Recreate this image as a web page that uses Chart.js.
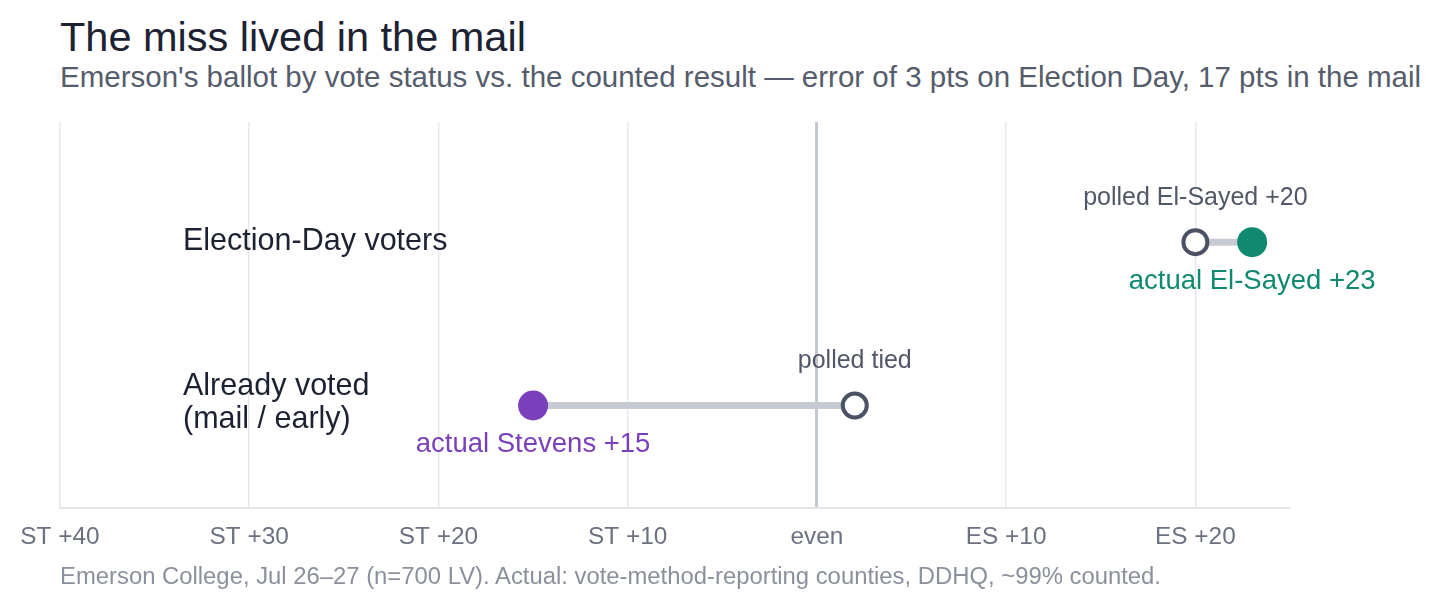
<!DOCTYPE html>
<html>
<head>
<meta charset="utf-8">
<script src="https://cdn.jsdelivr.net/npm/chart.js@4.4.1/dist/chart.umd.min.js"></script>
<style>
  html, body { margin: 0; padding: 0; background: #fff; }
  body { width: 1441px; height: 607px; position: relative; overflow: hidden;
         font-family: "Liberation Sans", Arial, Helvetica, sans-serif; }
  #wrap { position: absolute; left: 0; top: 0; width: 1441px; height: 607px; }
  .txt { position: absolute; left: 60px; white-space: nowrap; }
  #title { top: 13px; font-size: 41.5px; color: #1d2233; line-height: 48px; }
  #sub { top: 60px; font-size: 29.5px; color: #555c6c; line-height: 34px; }
  #foot { top: 562px; font-size: 23.85px; color: #8a909c; line-height: 28px; }
</style>
</head>
<body>
<div id="title" class="txt">The miss lived in the mail</div>
<div id="sub" class="txt">Emerson's ballot by vote status vs. the counted result — error of 3 pts on Election Day, 17 pts in the mail</div>
<div id="wrap"><canvas id="dumbbell"></canvas></div>
<div id="foot" class="txt">Emerson College, Jul 26–27 (n=700 LV). Actual: vote-method-reporting counties, DDHQ, ~99% counted.</div>
<script>
// margin: negative = Stevens (ST) ahead, positive = El-Sayed (ES) ahead
const grupos = [["Election-Day voters"], ["Already voted", "(mail / early)"]];
const linhaY = [1, 0];
const pesquisa = [20, 2];
const resultado = [23, -15];
const rotulosPesquisa = ["polled El-Sayed +20", "polled tied"];
const rotulosResultado = ["actual El-Sayed +23", "actual Stevens +15"];
const coresResultado = ["#0f8a70", "#7a3fbb"];
const tickValores = [-40, -30, -20, -10, 0, 10, 20];
const tickRotulos = ["ST +40", "ST +30", "ST +20", "ST +10", "even", "ES +10", "ES +20"];

const FONTE = '"Liberation Sans", Arial, Helvetica, sans-serif';

let datasets = [];
// pontos da pesquisa (aro)
datasets.push({
  label: "polled",
  data: pesquisa.map((v, i) => ({ x: v, y: linhaY[i] })),
  pointRadius: 12,
  pointHoverRadius: 12,
  backgroundColor: "#ffffff",
  borderColor: "#4b5263",
  borderWidth: 4,
  order: 1,
});
// resultado real (cheio)
datasets.push({
  label: "actual",
  data: resultado.map((v, i) => ({ x: v, y: linhaY[i] })),
  pointRadius: 15,
  pointHoverRadius: 15,
  backgroundColor: coresResultado,
  borderColor: coresResultado,
  borderWidth: 0,
  order: 1,
});
// barrinhas ligando
for (let i = 0; i < grupos.length; i++) {
  datasets.push({
    label: "link" + i,
    data: [{ x: pesquisa[i], y: linhaY[i] }, { x: resultado[i], y: linhaY[i] }],
    showLine: true,
    pointRadius: 0,
    borderColor: "#c6cad3",
    borderWidth: 7,
    order: 5,
  });
}

const rotulos = {
  id: "rotulos",
  afterDatasetsDraw(chart) {
    const ctx = chart.ctx;
    const xs = chart.scales.x, ys = chart.scales.y;
    ctx.save();
    ctx.textBaseline = "middle";
    for (let i = 0; i < grupos.length; i++) {
      const yy = ys.getPixelForValue(linhaY[i]);
      // nome da linha
      ctx.textAlign = "left";
      ctx.fillStyle = "#1d2233";
      ctx.font = "30.5px " + FONTE;
      const linhas = grupos[i];
      const passo = 33;
      const y0 = yy - 1 - (linhas.length - 1) * (passo / 2 + 1);
      linhas.forEach((t, k) => ctx.fillText(t, chart.chartArea.left + 123, y0 + k * passo));
      // rotulo pesquisa
      ctx.textAlign = "center";
      ctx.fillStyle = "#505767";
      ctx.font = "25px " + FONTE;
      ctx.fillText(rotulosPesquisa[i], xs.getPixelForValue(pesquisa[i]), yy - 44);
      // rotulo resultado
      ctx.fillStyle = coresResultado[i];
      ctx.font = "27.5px " + FONTE;
      ctx.fillText(rotulosResultado[i], xs.getPixelForValue(resultado[i]), yy + 39);
    }
    ctx.restore();
  },
};

const ctx = document.getElementById("dumbbell");
window.meuGrafico = new Chart(ctx, {
  type: "scatter",
  data: { datasets: datasets },
  options: {
    responsive: true,
    maintainAspectRatio: false,
    animation: false,
    layout: { padding: { left: 60, right: 151, top: 122, bottom: 40 } },
    plugins: { legend: { display: false }, tooltip: { enabled: false } },
    scales: {
      x: {
        type: "linear",
        min: -40,
        max: 25,
        afterBuildTicks: (axis) => { axis.ticks = tickValores.map((v) => ({ value: v })); },
        ticks: {
          padding: 15,
          color: "#6b7180",
          font: { family: FONTE, size: 24.4 },
          callback: (v) => tickRotulos[tickValores.indexOf(v)],
        },
        grid: {
          drawTicks: false,
          color: (c) => (c.tick && c.tick.value === 0 ? "#c4c8d0" : "#e7e9ed"),
          lineWidth: (c) => (c.tick && c.tick.value === 0 ? 3 : 1.5),
        },
        border: { display: true, color: "#e3e5e9", width: 2 },
      },
      y: {
        type: "linear",
        display: false,
        min: -0.626,
        max: 1.736,
      },
    },
  },
  plugins: [rotulos],
});
</script>
</body>
</html>
